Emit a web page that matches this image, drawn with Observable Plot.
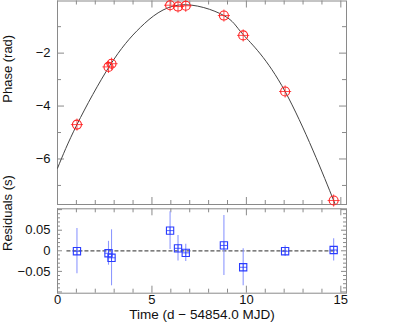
<!DOCTYPE html>
<html><head><meta charset="utf-8">
<script src="https://cdn.jsdelivr.net/npm/d3@7"></script>
<script src="https://cdn.jsdelivr.net/npm/@observablehq/plot@0.6"></script>
<style>
body{margin:0;background:#fff;}
#chart{position:relative;width:410px;height:326px;overflow:hidden;}
#chart svg{position:absolute;left:0;}
</style></head><body><div id="chart"></div>
<script>
// ---- data ----
const times = [1.03, 2.70, 2.86, 5.96, 6.38, 6.79, 8.81, 9.83, 12.05, 14.62];
const phases = [-4.70, -2.52, -2.40, -0.19, -0.24, -0.21, -0.58, -1.33, -3.45, -7.57];
const residuals = [-0.001, -0.006, -0.017, 0.049, 0.006, -0.005, 0.013, -0.040, -0.001, 0.002];
const residualErrors = [0.055, 0.029, 0.068, 0.046, 0.031, 0.021, 0.073, 0.045, 0.013, 0.027];
// model curve
const curveT = [0, 1.03, 2.78, 4.4, 6.45, 8.81, 9.83, 12.05, 14.62, 14.78];
const curvePhase = [-6.35, -4.70, -2.46, -1.02, -0.18, -0.58, -1.30, -3.45, -7.57, -7.86];
const zeroLineSpan = [0.5, 14.85];
// ticks
const timeMajor = [0, 5, 10, 15];
const timeMinor = [1, 2, 3, 4, 6, 7, 8, 9, 11, 12, 13, 14];
const timeLabels = ["0", "5", "10", "15"];
const phaseMajor = [-6, -4, -2];
const phaseMinor = [-7, -5, -3, -1];
const phaseLabels = ["−6", "−4", "−2"];
const resMajor = [-0.1, -0.05, 0, 0.05, 0.1];
const resMinor = [-0.09, -0.08, -0.07, -0.06, -0.04, -0.03, -0.02, -0.01, 0.01, 0.02, 0.03, 0.04, 0.06, 0.07, 0.08, 0.09];
const resLabelValues = [-0.05, 0, 0.05];
const resLabels = ["−0.05", "0", "0.05"];
const xTitle = "Time (d − 54854.0 MJD)";
const phaseTitle = "Phase (rad)";
const resTitle = "Residuals (s)";

// ---- layout ----
const W = 410, ML = 57, MR = 64;
const FW = W - ML - MR;
const font = "'Liberation Sans', Arial, Helvetica, sans-serif";
const frameColor = "#8a8a8a";
const textColor = "#111";

const points = times.map((t, i) => ({t, p: phases[i], r: residuals[i], e: residualErrors[i]}));
const curve = curveT.map((t, i) => ({t, p: curvePhase[i]}));

function frameTicks(fh, xMaj, xMin, yMaj, yMin, lenMajX, lenMinX, lenMajY, lenMinY) {
  const s = {stroke: frameColor, strokeWidth: 1};
  return [
    Plot.tickX(xMaj, {x: d => d, insetTop: fh - lenMajX, ...s}),
    Plot.tickX(xMaj, {x: d => d, insetBottom: fh - lenMajX, ...s}),
    Plot.tickX(xMin, {x: d => d, insetTop: fh - lenMinX, ...s}),
    Plot.tickX(xMin, {x: d => d, insetBottom: fh - lenMinX, ...s}),
    Plot.tickY(yMaj, {y: d => d, insetRight: FW - lenMajY, ...s}),
    Plot.tickY(yMaj, {y: d => d, insetLeft: FW - lenMajY, ...s}),
    Plot.tickY(yMin, {y: d => d, insetRight: FW - lenMinY, ...s}),
    Plot.tickY(yMin, {y: d => d, insetLeft: FW - lenMinY, ...s}),
    Plot.frame({stroke: frameColor, strokeWidth: 1})
  ];
}

// ---- top panel ----
const H1 = 205, MT1 = 0.5, MB1 = 1;
const FH1 = H1 - MT1 - MB1;
const topPanel = Plot.plot({
  width: W, height: H1,
  marginLeft: ML, marginRight: MR, marginTop: MT1, marginBottom: MB1,
  style: {fontFamily: font, fontSize: "13px", background: "transparent", overflow: "visible"},
  x: {domain: [0, 15.3], axis: null},
  y: {domain: [-7.72, -0.03], axis: null},
  marks: [
    ...frameTicks(FH1, timeMajor, timeMinor, phaseMajor, phaseMinor, 7, 4, 7, 4),
    Plot.line(curve, {x: "t", y: "p", curve: "natural", stroke: "#444", strokeWidth: 1, clip: true}),
    Plot.dot(points, {x: "t", y: "p", symbol: "plus", r: 4, stroke: "#f22", strokeWidth: 0.8}),
    Plot.dot(points, {x: "t", y: "p", r: 4.5, stroke: "#f22", strokeWidth: 1.1}),
    Plot.text(phaseMajor, {y: d => d, text: (d, i) => phaseLabels[i], frameAnchor: "left", dx: -7, textAnchor: "end", fill: textColor, fontSize: 13}),
    Plot.text([phaseTitle], {text: d => d, frameAnchor: "left", dx: -50, rotate: -90, fill: textColor, fontSize: 13})
  ]
});
topPanel.style.top = "0px";

// ---- bottom panel ----
const H2 = 121, MT2 = 3.3, MB2 = 33.3;
const FH2 = H2 - MT2 - MB2;
const bottomPanel = Plot.plot({
  width: W, height: H2,
  marginLeft: ML, marginRight: MR, marginTop: MT2, marginBottom: MB2,
  style: {fontFamily: font, fontSize: "13px", background: "transparent", overflow: "visible"},
  x: {domain: [0, 15.3], axis: null},
  y: {domain: [-0.103, 0.102], axis: null},
  marks: [
    ...frameTicks(FH2, timeMajor, timeMinor, resMajor, resMinor, 7, 4, 5, 3),
    Plot.ruleY([0], {y: d => d, x1: zeroLineSpan[0], x2: zeroLineSpan[1], stroke: "#555", strokeWidth: 1.3, strokeDasharray: "4,2"}),
    Plot.ruleX(points, {x: "t", y1: d => d.r - d.e, y2: d => d.r + d.e, stroke: "#8d98ff", strokeWidth: 1.1}),
    Plot.dot(points, {x: "t", y: "r", symbol: "plus", r: 2.6, stroke: "#2a3cff", strokeWidth: 0.8}),
    Plot.dot(points, {x: "t", y: "r", symbol: "square", r: 4.1, stroke: "#2a3cff", strokeWidth: 1.1}),
    Plot.text(resLabelValues, {y: d => d, text: (d, i) => resLabels[i], frameAnchor: "left", dx: -7, textAnchor: "end", fill: textColor, fontSize: 13}),
    Plot.text([resTitle], {text: d => d, frameAnchor: "left", dx: -49.5, rotate: -90, fill: textColor, fontSize: 13}),
    Plot.text(timeMajor, {x: d => d, text: (d, i) => timeLabels[i], frameAnchor: "bottom", dy: 11, fill: textColor, fontSize: 13}),
    Plot.text([xTitle], {text: d => d, frameAnchor: "bottom", dy: 26, fill: textColor, fontSize: 13.5})
  ]
});
bottomPanel.style.top = "205px";

const chart = document.getElementById("chart");
chart.appendChild(topPanel);
chart.appendChild(bottomPanel);
</script>
</body></html>
